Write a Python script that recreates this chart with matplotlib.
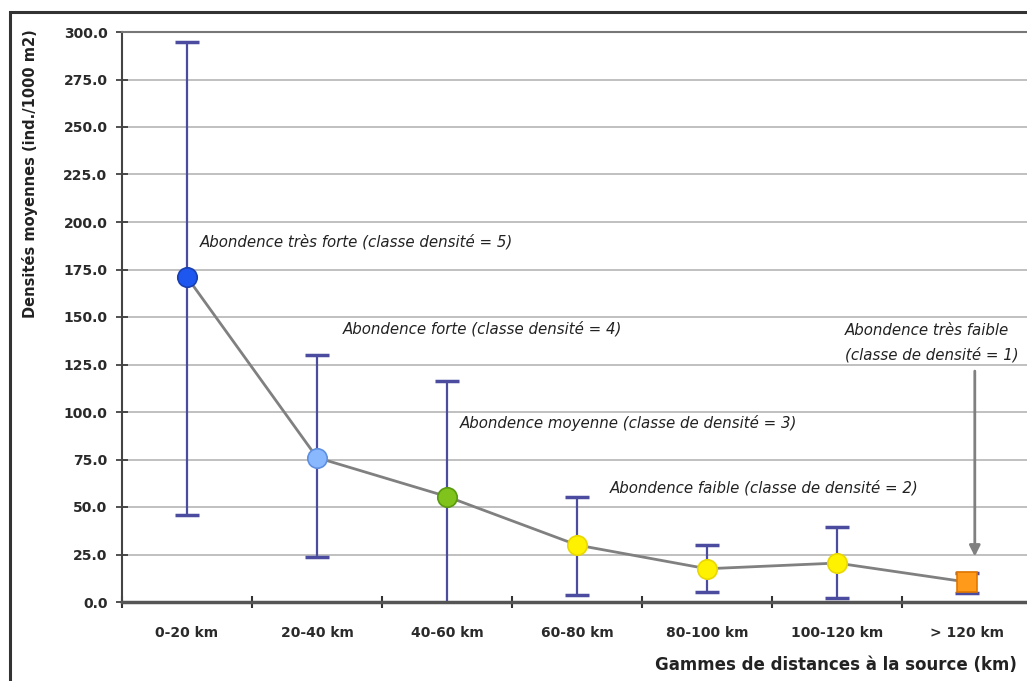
import matplotlib
matplotlib.use("Agg")
import matplotlib.pyplot as plt
from matplotlib.patches import Rectangle

# Données
categories = ['0-20 km', '20-40 km', '40-60 km', '60-80 km', '80-100 km', '100-120 km', '> 120 km']
moyennes = [171.0, 76.0, 55.5, 30.0, 17.5, 20.5, 10.5]
bornes_hautes = [294.5, 130.0, 116.5, 55.5, 30.0, 39.5, 15.5]
bornes_basses = [46.0, 23.5, -5.0, 3.5, 5.5, 2.0, 4.5]
couleurs = ['#1E56F0', '#8AB8FF', '#7FC31C', '#FFF200', '#FFF200', '#FFF200', '#FF9A1A']
bords = ['#1A3FB0', '#5F8FE0', '#5A9A10', '#E8D800', '#E8D800', '#E8D800', '#E07800']
marqueurs = ['o', 'o', 'o', 'o', 'o', 'o', 's']
y_ticks = [0, 25, 50, 75, 100, 125, 150, 175, 200, 225, 250, 275, 300]

annotations = [
    (0.1, 189.5, 'Abondence très forte (classe densité = 5)'),
    (1.2, 144.0, 'Abondence forte (classe densité = 4)'),
    (2.1, 94.0, 'Abondence moyenne (classe de densité = 3)'),
    (3.25, 60.0, 'Abondence faible (classe de densité = 2)'),
    (5.06, 143.0, 'Abondence très faible'),
    (5.06, 130.0, '(classe de densité = 1)'),
]

plt.rcParams['font.family'] = ['DejaVu Sans']

fig = plt.figure(figsize=(10.27, 6.81), dpi=100)
ax = fig.add_axes([122 / 1027, 79 / 681, 910 / 1027, 570 / 681])

x = list(range(len(categories)))
err_bas = [m - b for m, b in zip(moyennes, bornes_basses)]
err_haut = [h - m for m, h in zip(moyennes, bornes_hautes)]

ax.plot(x, moyennes, color='#808080', lw=2, zorder=3)
ax.errorbar(x, moyennes, yerr=[err_bas, err_haut], fmt='none', ecolor='#4B4BA0',
            elinewidth=1.6, capsize=8.5, capthick=2.5, zorder=2)
for xi, yi, c, e, m in zip(x, moyennes, couleurs, bords, marqueurs):
    ax.plot(xi, yi, marker=m, ms=14 if m == 'o' else 14, color=c, mec=e, mew=1.2, zorder=4)

ax.set_xlim(-0.5, len(categories) - 0.5)
ax.set_ylim(0, 300)
ax.set_yticks(y_ticks)
ax.set_yticklabels([f'{v:.1f}' for v in y_ticks])
ax.set_xticks([i + 0.5 for i in range(-1, len(categories))])
ax.set_xticklabels([])
ax.set_xticks(x, minor=True)
ax.set_xticklabels(categories, minor=True)
ax.tick_params(axis='x', which='minor', length=0, pad=17, labelsize=10, labelcolor='#2a2a2a')
ax.tick_params(axis='x', which='major', direction='inout', length=9, width=1.5, color='#333333')
ax.tick_params(axis='y', direction='inout', length=9, width=1.2, color='#333333', pad=6,
               labelsize=10, labelcolor='#2a2a2a')
for lab in ax.get_xticklabels(minor=True) + ax.get_yticklabels():
    lab.set_fontweight('bold')

ax.grid(axis='y', color='#BBBBBB', lw=1.3)
ax.set_axisbelow(True)
ax.spines['right'].set_visible(False)
ax.spines['top'].set_color('#777777')
ax.spines['top'].set_linewidth(1.5)
ax.spines['left'].set_color('#444444')
ax.spines['left'].set_linewidth(1.5)
ax.spines['bottom'].set_color('#555555')
ax.spines['bottom'].set_linewidth(2.5)

for tx, ty, texte in annotations:
    ax.text(tx, ty, texte, style='italic', fontsize=10.8, color='#222222', ha='left', va='center')

ax.annotate('', xy=(6.06, 22.5), xytext=(6.06, 123),
            arrowprops=dict(arrowstyle='-|>', color='#808080', lw=2, mutation_scale=16))

fig.text(30 / 1027, 1 - 174 / 681, 'Densités moyennes (ind./1000 m2)', rotation=90,
         ha='center', va='center', fontsize=10.5, fontweight='bold', color='#222222')
fig.text(655 / 1027, 1 - 665 / 681, 'Gammes de distances à la source (km)',
         ha='left', va='center', fontsize=12, fontweight='bold', color='#222222')

fig.patches.append(Rectangle((10 / 1027, -0.1), 1.2, 1.1 - 12 / 681,
                             transform=fig.transFigure, fill=False, ec='#333333', lw=2.2))

fig.savefig('out.png', dpi=100)
